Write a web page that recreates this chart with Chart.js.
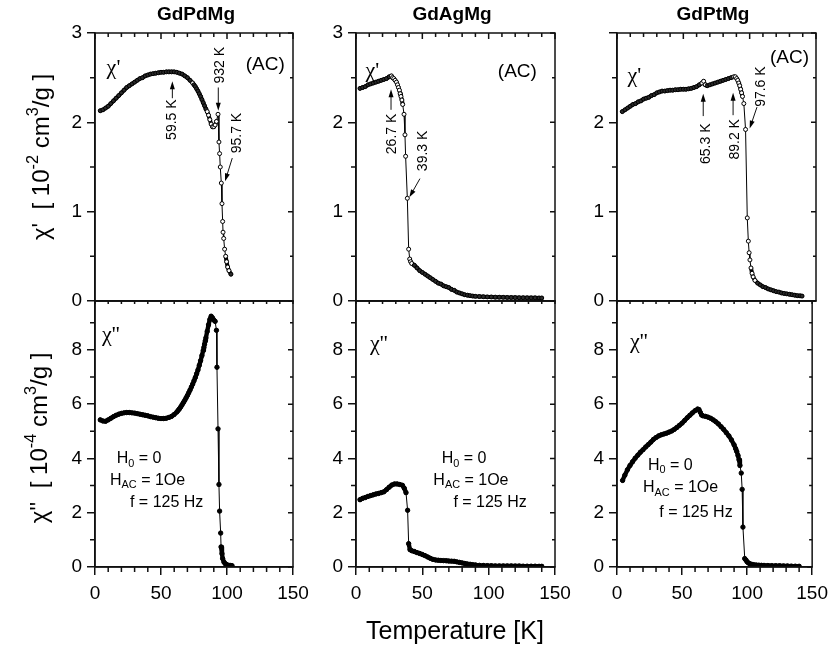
<!DOCTYPE html>
<html>
<head>
<meta charset="utf-8">
<script src="https://cdn.jsdelivr.net/npm/chart.js@4.4.0/dist/chart.umd.min.js"></script>
<style>
	body { margin: 0; background: #fff; }
	#wrap { position: relative; width: 835px; height: 649px; }
	#wrap canvas { position: absolute; left: 0; top: 0; }
</style>
</head>
<body>
<div id="wrap">
	<canvas id="pdReChart" width="835" height="649"></canvas>
	<canvas id="pdImChart" width="835" height="649"></canvas>
	<canvas id="agReChart" width="835" height="649"></canvas>
	<canvas id="agImChart" width="835" height="649"></canvas>
	<canvas id="ptReChart" width="835" height="649"></canvas>
	<canvas id="ptImChart" width="835" height="649"></canvas>
</div>
<script>
// GdPdMg
var pdReT = [4, 6, 8, 10, 12, 14, 16, 18, 20, 22, 24, 26, 28, 30, 32, 34, 36, 38, 40, 42, 44, 46, 48, 50, 52, 54, 56, 58, 60, 62, 64, 66, 68, 70, 72, 74,
	75, 76, 77, 78, 79, 80, 81, 82, 83, 84,
	85, 86, 87, 88, 89, 90, 91, 92, 93.2, 93.9, 94.4, 94.9, 95.7, 96.2, 96.7, 97.0, 97.5, 98.2, 99.0, 99.7, 100.5, 101.5, 103];
var pdRe = [2.13, 2.14, 2.16, 2.18, 2.21, 2.24, 2.27, 2.30, 2.33, 2.36, 2.39, 2.41, 2.43, 2.45, 2.47, 2.49, 2.50, 2.52, 2.53, 2.54,
	2.545, 2.55, 2.555, 2.56, 2.56, 2.565, 2.565, 2.565, 2.565, 2.56, 2.55, 2.54, 2.52, 2.50, 2.47, 2.44,
	2.42, 2.40, 2.375, 2.35, 2.32, 2.29, 2.255, 2.22, 2.185, 2.15,
	2.12, 2.08, 2.03, 1.98, 1.95, 1.95, 1.97, 2.01, 2.09, 1.78, 1.65, 1.50, 1.32, 1.09, 0.89, 0.77, 0.70, 0.58, 0.50, 0.44, 0.38, 0.34, 0.30];
var pdImT = [4, 6, 8, 10, 12, 14, 16, 18, 20, 22, 24, 26, 28, 30, 32, 34, 36, 38, 40, 42, 44, 46, 48, 50, 52, 54, 56, 58, 60, 62,
	63, 64, 65, 66, 67, 68, 69, 70, 71, 72, 73, 74, 75, 76, 77, 78, 79, 80, 81, 82, 82.5, 83, 83.5, 84,
	85, 86, 87, 88, 89, 90, 91, 92, 92.4, 93.2, 93.9, 94.4, 95.2, 95.5, 96.2, 96.7, 97.7, 98.7, 99.7, 101, 102.3, 103.8];
var pdIm = [5.42, 5.38, 5.37, 5.42, 5.48, 5.54, 5.59, 5.63, 5.66, 5.68, 5.69, 5.69, 5.68, 5.67, 5.65, 5.63, 5.61, 5.59, 5.57, 5.54,
	5.52, 5.50, 5.48, 5.47, 5.47, 5.48, 5.51, 5.55, 5.62, 5.71,
	5.77, 5.83, 5.90, 5.98, 6.06, 6.14, 6.23, 6.32, 6.42, 6.52, 6.63, 6.74, 6.86, 6.98, 7.12, 7.26, 7.43, 7.60, 7.79, 7.98, 8.09, 8.21, 8.33, 8.44,
	8.68, 8.92, 9.12, 9.24, 9.18, 9.10, 9.05, 8.72, 7.36, 5.09, 3.04, 2.06, 1.25, 0.74, 0.49, 0.31, 0.18, 0.12, 0.09, 0.06, 0.06, 0.05];

// GdAgMg
var agReT = [3, 5, 7, 9, 11, 13, 15, 17, 19, 21, 23, 25, 26.7, 27.5, 28.5, 29.5, 30.5, 31.3, 32, 32.7, 33.3, 33.9, 34.6, 35.2, 36.2, 36.9, 37.4, 38.7, 39.7, 40.5, 41.2,
	42, 44, 46, 48, 50, 52, 54, 56, 58, 60, 62, 64, 66, 68, 70, 72, 74, 76, 78, 80, 82, 84, 86, 88, 90,
	93, 96, 99, 102, 105, 108, 111, 114, 117, 120, 123, 126, 129, 132, 135, 138, 140];
var agRe = [2.38, 2.39, 2.40, 2.42, 2.43, 2.44, 2.45, 2.46, 2.47, 2.48, 2.49, 2.51, 2.52,
	2.50, 2.49, 2.47, 2.45, 2.42, 2.39, 2.36, 2.32, 2.29, 2.25, 2.20, 2.09, 1.86, 1.62, 1.15, 0.58, 0.47, 0.44,
	0.42, 0.40, 0.37, 0.34, 0.32, 0.30, 0.28, 0.26, 0.24, 0.22, 0.20, 0.19, 0.17, 0.16, 0.15, 0.13, 0.12, 0.10, 0.09, 0.08, 0.07, 0.065, 0.06, 0.055, 0.052,
	0.05, 0.048, 0.046, 0.045, 0.043, 0.042, 0.041, 0.04, 0.039, 0.038, 0.037, 0.037, 0.036, 0.035, 0.035, 0.034, 0.034];
var agImT = [3, 5, 7, 9, 11, 13, 15, 17, 19, 21, 23, 25, 27, 29, 31, 33, 35, 36.4, 37.7, 38.9, 39.7, 40.7,
	42, 44, 46, 48, 50, 52, 54, 56, 58, 60, 62, 64, 66, 68, 70, 72, 74, 76, 78, 80, 82, 84, 86, 88, 90,
	93, 96, 99, 102, 105, 108, 111, 114, 117, 120, 123, 126, 129, 132, 135, 138, 140];
var agIm = [2.48, 2.53, 2.56, 2.60, 2.63, 2.66, 2.69, 2.71, 2.74, 2.77, 2.85, 2.94, 3.02, 3.06, 3.06, 3.04, 3.01, 2.90, 2.74, 2.09, 0.86, 0.64,
	0.60, 0.57, 0.53, 0.50, 0.46, 0.42, 0.37, 0.32, 0.28, 0.26, 0.25, 0.24, 0.235, 0.23, 0.22, 0.215, 0.21, 0.19, 0.17, 0.15, 0.13, 0.11, 0.10, 0.085, 0.075,
	0.06, 0.055, 0.05, 0.045, 0.04, 0.04, 0.04, 0.04, 0.04, 0.035, 0.035, 0.03, 0.03, 0.03, 0.03, 0.025, 0.025];

// GdPtMg
var ptReT = [4, 6, 8, 10, 12, 14, 16, 18, 20, 22, 24, 26, 28, 30, 32, 34, 36, 38, 40, 42, 44, 46, 48, 50, 52, 54, 56, 58, 60, 62, 64,
	65.3, 66.5, 68, 70, 72, 74, 76, 78, 80, 82, 84, 86, 88,
	89.2, 90.2, 91, 91.8, 92.5, 93.2, 93.9, 94.6, 95.6, 96.9, 98.2, 99, 99.6, 100.2, 101, 101.8, 102.6,
	104, 106, 108, 110, 112, 114, 116, 118, 120, 122, 124, 126, 128, 130, 132, 134, 136, 138, 139.5];
var ptRe = [2.12, 2.14, 2.16, 2.18, 2.20, 2.21, 2.23, 2.24, 2.26, 2.27, 2.28, 2.30, 2.31, 2.33, 2.34, 2.35, 2.35, 2.355, 2.36, 2.36,
	2.365, 2.365, 2.37, 2.37, 2.37, 2.375, 2.38, 2.39, 2.40, 2.42, 2.44,
	2.46, 2.42, 2.41, 2.42, 2.43, 2.44, 2.45, 2.46, 2.47, 2.48, 2.49, 2.50, 2.51,
	2.51, 2.49, 2.47, 2.44, 2.41, 2.37, 2.33, 2.29, 2.21, 1.92, 0.93, 0.67, 0.54, 0.46, 0.37, 0.31, 0.27,
	0.23, 0.20, 0.18, 0.16, 0.15, 0.135, 0.125, 0.115, 0.105, 0.10, 0.09, 0.085, 0.08, 0.075, 0.07, 0.065, 0.06, 0.058, 0.055];
var ptImT = [4.3, 6, 8, 10, 12, 14, 16, 18, 20, 22, 24, 26, 28, 30, 32, 34, 36, 38, 40, 42, 44, 46, 48, 50, 52, 54, 56, 58, 60, 62,
	63, 64, 65, 66, 68, 70, 72, 74, 76, 78, 80, 82, 84, 86, 88, 90,
	91.2, 92, 93, 93.8, 94.5, 95.5, 96.2, 96.8, 98.2, 99.2, 100, 101, 102, 103.5, 105, 107, 109, 111, 113, 116, 119, 122, 125, 128, 131, 134, 137, 140];
var ptIm = [3.19, 3.38, 3.58, 3.74, 3.88, 4.01, 4.12, 4.23, 4.32, 4.42, 4.51, 4.60, 4.70, 4.77, 4.83, 4.87, 4.90, 4.93, 4.97, 5.01,
	5.07, 5.14, 5.22, 5.30, 5.40, 5.50, 5.59, 5.68, 5.76, 5.82,
	5.80, 5.70, 5.60, 5.57, 5.55, 5.52, 5.48, 5.42, 5.35, 5.27, 5.17, 5.07, 4.95, 4.83, 4.68, 4.50,
	4.36, 4.26, 4.11, 3.95, 3.74, 3.46, 2.86, 1.47, 0.31, 0.25, 0.19, 0.15, 0.12, 0.10, 0.086, 0.075, 0.068, 0.062, 0.058, 0.054, 0.05, 0.047, 0.044, 0.04, 0.037, 0.033, 0.03, 0.027];

var tempTicks = [0, 50, 100, 150];
var SANS = '"Liberation Sans", Arial, sans-serif';
var SERIF = '"Liberation Serif", "Times New Roman", serif';
var INK = "#111";

// text with sub/superscripts: [text, 0 | 1 (sup) | -1 (sub)]
function drawRich(ctx, segs, x, y, size, family, weight, align) {
	var total = 0;
	segs.forEach(function (s) {
		ctx.font = weight + " " + (s[1] ? size * 0.68 : size) + "px " + family;
		total += ctx.measureText(s[0]).width;
	});
	var cx = align === "left" ? x : x - total / 2;
	ctx.textAlign = "left";
	ctx.textBaseline = "middle";
	segs.forEach(function (s) {
		ctx.font = weight + " " + (s[1] ? size * 0.68 : size) + "px " + family;
		var dy = s[1] === 1 ? -size * 0.36 : (s[1] === -1 ? size * 0.3 : 0);
		ctx.fillText(s[0], cx, y + dy);
		cx += ctx.measureText(s[0]).width;
	});
}

var decor = {
	id: "decor",
	afterDraw: function (chart, args, o) {
		var ctx = chart.ctx, a = chart.chartArea, xs = chart.scales.x, ys = chart.scales.y;
		ctx.save();
		ctx.strokeStyle = INK;
		ctx.fillStyle = "#000";
		ctx.lineWidth = 1.5;
		ctx.strokeRect(a.left, a.top, a.right - a.left, a.bottom - a.top);
		ctx.beginPath();
		for (var t = 0; t <= 150; t += 10) {
			var px = xs.getPixelForValue(t), major = t % 50 === 0;
			ctx.moveTo(px, a.top);
			ctx.lineTo(px, a.top + (major ? o.topTick[0] : o.topTick[1]));
			if (o.bottomTicks && !major) {
				ctx.moveTo(px, a.bottom);
				ctx.lineTo(px, a.bottom + 5);
			}
		}
		for (var v = 0; v <= ys.max + 1e-6; v += o.yMinor) {
			var py = ys.getPixelForValue(v);
			var isMajor = Math.abs(v / o.yMajor - Math.round(v / o.yMajor)) < 1e-6;
			if (!isMajor) {
				ctx.moveTo(a.left - 5, py);
				ctx.lineTo(a.left, py);
			}
			ctx.moveTo(a.right, py);
			ctx.lineTo(a.right - (isMajor ? 5 : 3), py);
		}
		ctx.stroke();

		ctx.lineWidth = 1;
		(o.arrows || []).forEach(function (r) {
			var x1 = xs.getPixelForValue(r[0]), y1 = ys.getPixelForValue(r[1]);
			var x2 = xs.getPixelForValue(r[2]), y2 = ys.getPixelForValue(r[3]);
			var ang = Math.atan2(y2 - y1, x2 - x1), c = Math.cos(ang), s = Math.sin(ang);
			ctx.beginPath();
			ctx.moveTo(x1, y1);
			ctx.lineTo(x2 - 6 * c, y2 - 6 * s);
			ctx.stroke();
			ctx.beginPath();
			ctx.moveTo(x2, y2);
			ctx.lineTo(x2 - 8 * c + 2.5 * s, y2 - 8 * s - 2.5 * c);
			ctx.lineTo(x2 - 8 * c - 2.5 * s, y2 - 8 * s + 2.5 * c);
			ctx.closePath();
			ctx.fill();
		});

		(o.notes || []).forEach(function (n) {
			var x = n.px ? n.x : xs.getPixelForValue(n.x);
			var y = n.px ? n.y : ys.getPixelForValue(n.y);
			ctx.save();
			ctx.translate(x, y);
			if (n.rot) ctx.rotate(n.rot * Math.PI / 180);
			drawRich(ctx, typeof n.t === "string" ? [[n.t, 0]] : n.t, 0, 0, n.size, n.family || SANS, n.weight || "normal", n.align || "center");
			ctx.restore();
		});
		ctx.restore();
	}
};

// open circles that sit in a closely packed run look filled in, as in the print
function packedFill(c) {
	var pts = c.dataset.data, i = c.dataIndex, xs = c.chart.scales.x, ys = c.chart.scales.y;
	var worst = 0;
	[i - 1, i + 1].forEach(function (j) {
		if (j < 0 || j >= pts.length) return;
		if (Math.abs(pts[j].x - pts[i].x) < 1.5 && !(pts[i].x > 74 && pts[i].x < 84.5)) { worst = Infinity; return; }
		var d = Math.hypot(xs.getPixelForValue(pts[j].x) - xs.getPixelForValue(pts[i].x),
			ys.getPixelForValue(pts[j].y) - ys.getPixelForValue(pts[i].y));
		worst = Math.max(worst, d);
	});
	return worst < 5 ? "#2a2a2a" : "#fff";
}

function makePanel(id, area, tt, vals, isIm, yMax, decorOpts, hideTopLabel) {
	var W = 835, H = 649, yw = 40, xh = isIm ? 40 : 0;
	var points = tt.map(function (t, i) { return { x: t, y: vals[i] }; });
	decorOpts.topTick = isIm ? [3, 3] : [6, 4];
	decorOpts.bottomTicks = isIm;
	decorOpts.yMajor = isIm ? 2 : 1;
	decorOpts.yMinor = isIm ? 1 : 0.5;
	return new Chart(document.getElementById(id), {
		type: "line",
		data: {
			datasets: [{
				data: points,
				borderColor: "#000",
				borderWidth: 1,
				borderCapStyle: "round",
				borderJoinStyle: "round",
				// closely packed measurements merge into a solid band
				segment: {
					borderWidth: function (c) {
						var d = Math.hypot(c.p1.x - c.p0.x, c.p1.y - c.p0.y);
						return d < (isIm ? 7 : 6) ? (isIm ? 4.4 : 4) : 1;
					}
				},
				pointRadius: isIm ? 2.2 : 2,
				pointBorderWidth: 1,
				pointBorderColor: "#000",
				pointBackgroundColor: isIm ? "#000" : packedFill,
				tension: 0,
				fill: false
			}]
		},
		options: {
			responsive: false,
			animation: false,
			events: [],
			layout: { padding: { left: area[0] - yw, top: area[1], right: W - area[2], bottom: H - area[3] - xh } },
			plugins: { legend: { display: false }, tooltip: { enabled: false }, decor: decorOpts },
			scales: {
				x: {
					type: "linear",
					min: 0,
					max: 150,
					afterFit: function (s) { s.height = xh; },
					afterBuildTicks: function (s) { s.ticks = tempTicks.map(function (v) { return { value: v }; }); },
					ticks: { display: isIm, color: "#000", font: { family: SANS, size: 19 }, padding: 7, maxRotation: 0 },
					grid: { display: isIm, drawOnChartArea: false, tickLength: 8, color: INK, lineWidth: 1.5 },
					border: { color: INK, width: 1.5 }
				},
				y: {
					min: 0,
					max: yMax,
					afterFit: function (s) { s.width = yw; },
					ticks: {
						stepSize: isIm ? 2 : 1,
						includeBounds: false,
						color: "#000",
						font: { family: SANS, size: 19 },
						padding: 5,
						callback: function (v) { return (hideTopLabel && v === 3) ? "" : v; }
					},
					grid: { drawOnChartArea: false, tickLength: 8, color: INK, lineWidth: 1.5 },
					border: { color: INK, width: 1.5 }
				}
			}
		},
		plugins: [decor]
	});
}

var hLabels = function (x0, y0, x1, y1, x2, y2) {
	return [
		{ t: [["H", 0], ["0", -1], [" = 0", 0]], x: x0, y: y0, size: 16, align: "left" },
		{ t: [["H", 0], ["AC", -1], [" = 1Oe", 0]], x: x1, y: y1, size: 16, align: "left" },
		{ t: "f = 125 Hz", x: x2, y: y2, size: 16, align: "left" }
	];
};

var colPd = [95, 293], colAg = [356, 555], colPt = [617, 816];
var rowRe = [33, 301], rowIm = [301, 567];

var pdReChart = makePanel("pdReChart", [colPd[0], rowRe[0], colPd[1], rowRe[1]], pdReT, pdRe, false, 3, {
	notes: [
		{ t: "GdPdMg", x: 196, y: 15, px: true, size: 19, weight: "bold" },
		{ t: [["\u03c7'  [ 10", 0], ["-2", 1], [" cm", 0], ["3", 1], ["/g ]", 0]], x: 42, y: 157, px: true, size: 24, rot: -90 },
		{ t: "\u03c7'", x: 14, y: 2.61, size: 22, family: SERIF },
		{ t: "(AC)", x: 129, y: 2.64, size: 19 },
		{ t: "59.5 K", x: 58.1, y: 2.03, size: 14, rot: -90 },
		{ t: "932 K", x: 94.8, y: 2.64, size: 14, rot: -90 },
		{ t: "95.7 K", x: 107.8, y: 1.88, size: 14, rot: -90 }
	],
	arrows: [[58.6, 2.27, 58.6, 2.46], [93.4, 2.39, 93.4, 2.13], [104, 1.6, 98.5, 1.34]]
});

var pdImChart = makePanel("pdImChart", [colPd[0], rowIm[0], colPd[1], rowIm[1]], pdImT, pdIm, true, 9.8, {
	notes: [
		{ t: [["\u03c7''  [ 10", 0], ["-4", 1], [" cm", 0], ["3", 1], ["/g ]", 0]], x: 40, y: 438, px: true, size: 24, rot: -90 },
		{ t: "\u03c7''", x: 12, y: 8.53, size: 22, family: SERIF }
	].concat(hLabels(16.4, 3.99, 11.4, 3.19, 26.5, 2.37))
});

var agReChart = makePanel("agReChart", [colAg[0], rowRe[0], colAg[1], rowRe[1]], agReT, agRe, false, 3, {
	notes: [
		{ t: "GdAgMg", x: 452, y: 15, px: true, size: 19, weight: "bold" },
		{ t: "\u03c7'", x: 12.3, y: 2.57, size: 22, family: SERIF },
		{ t: "(AC)", x: 121.6, y: 2.57, size: 19 },
		{ t: "26.7 K", x: 27.4, y: 1.87, size: 14, rot: -90 },
		{ t: "39.3 K", x: 50.8, y: 1.68, size: 14, rot: -90 }
	],
	arrows: [[26.4, 2.14, 26.4, 2.37], [48.2, 1.37, 40.2, 1.16]]
});

var agImChart = makePanel("agImChart", [colAg[0], rowIm[0], colAg[1], rowIm[1]], agImT, agIm, true, 9.8, {
	notes: [
		{ t: "Temperature [K]", x: 455, y: 632, px: true, size: 25 },
		{ t: "\u03c7''", x: 17.3, y: 8.2, size: 22, family: SERIF }
	].concat(hLabels(64.6, 3.99, 58.3, 3.19, 73.4, 2.39))
});

var ptReChart = makePanel("ptReChart", [colPt[0], rowRe[0], colPt[1], rowRe[1]], ptReT, ptRe, false, 3, {
	notes: [
		{ t: "GdPtMg", x: 713, y: 15, px: true, size: 19, weight: "bold" },
		{ t: "\u03c7'", x: 13, y: 2.52, size: 22, family: SERIF },
		{ t: "(AC)", x: 130, y: 2.72, size: 19 },
		{ t: "65.3 K", x: 67.5, y: 1.76, size: 14, rot: -90 },
		{ t: "89.2 K", x: 88.75, y: 1.81, size: 14, rot: -90 },
		{ t: "97.6 K", x: 108.75, y: 2.40, size: 14, rot: -90 }
	],
	arrows: [[65, 2.07, 65, 2.32], [87.5, 2.08, 87.5, 2.33], [105.5, 2.17, 100, 1.93]]
}, true);

var ptImChart = makePanel("ptImChart", [colPt[0], rowIm[0], colPt[1], rowIm[1]], ptImT, ptIm, true, 9.8, {
	notes: [
		{ t: "\u03c7''", x: 16.75, y: 8.28, size: 22, family: SERIF }
	].concat(hLabels(23.75, 3.74, 20, 2.92, 32.5, 2.02))
});
</script>
</body>
</html>
